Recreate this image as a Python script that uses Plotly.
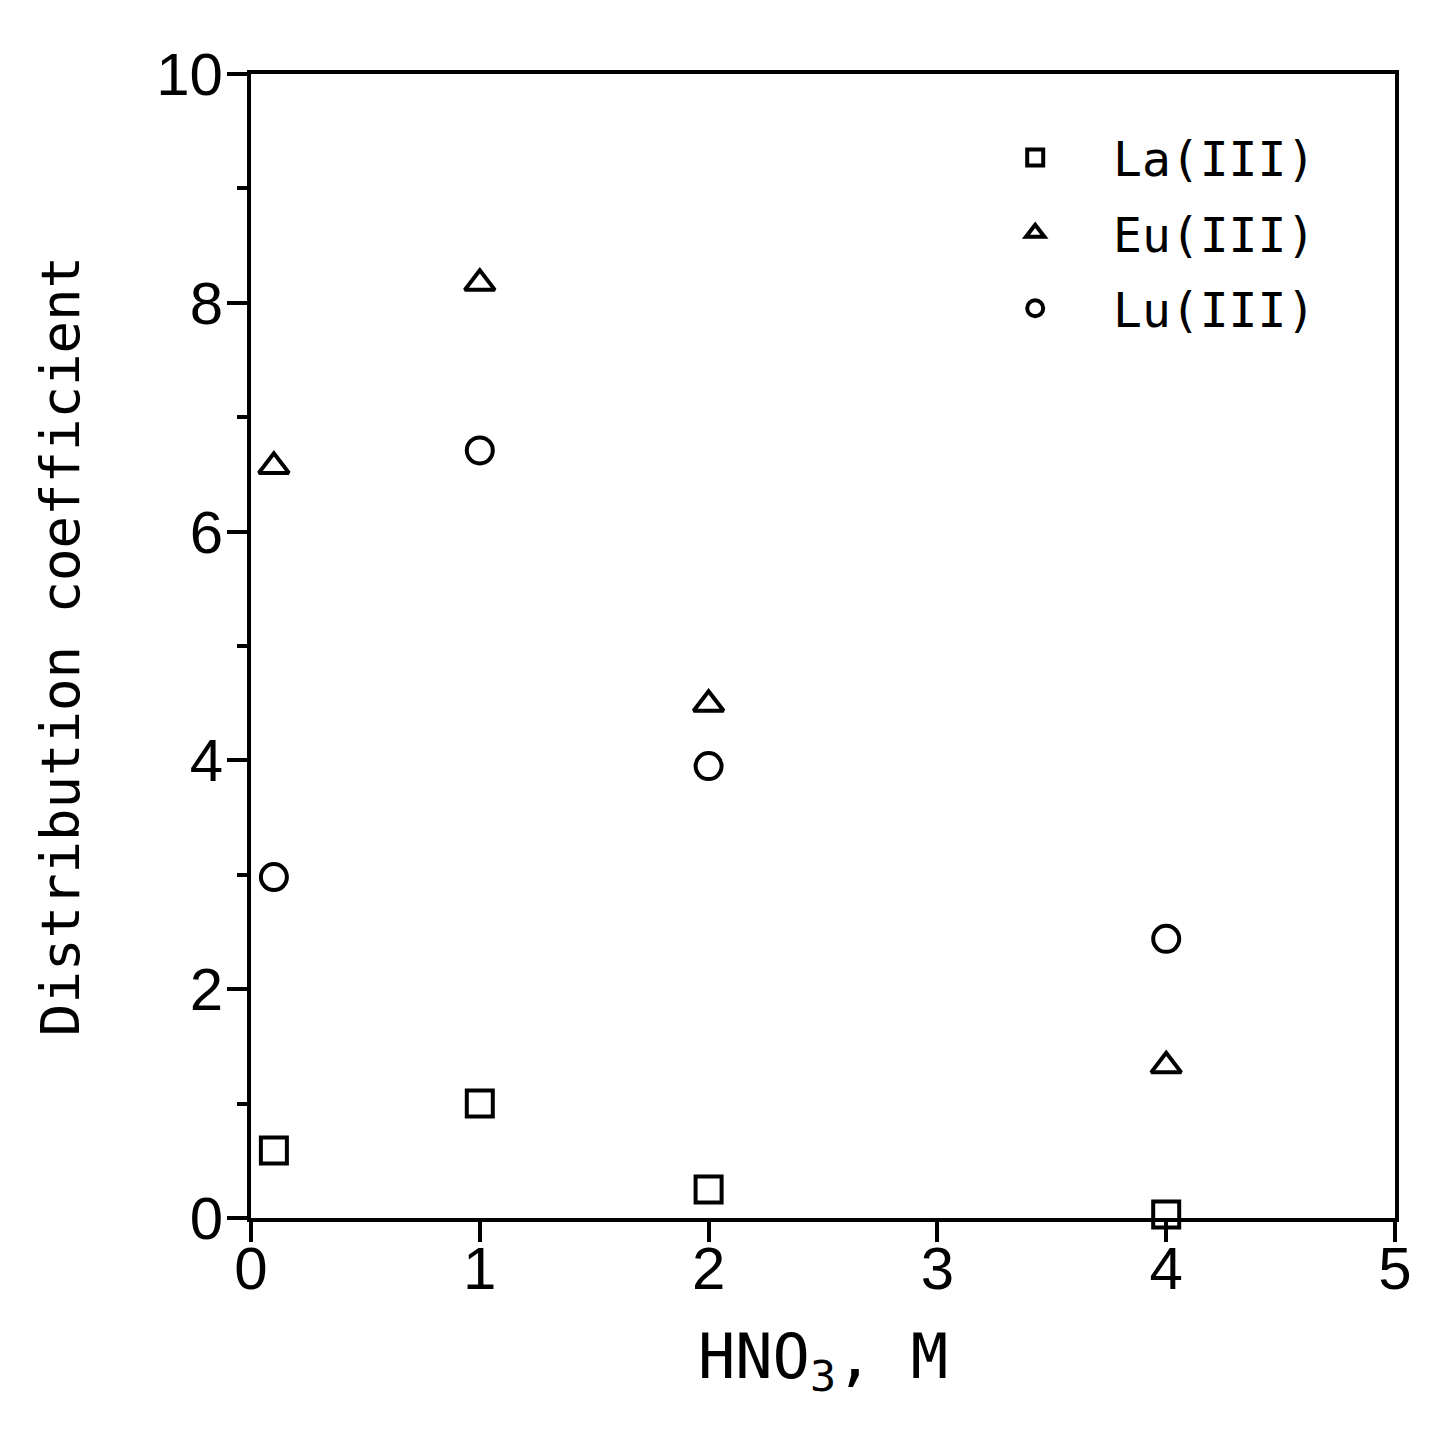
import plotly.graph_objects as go

# HNO3 concentration (M)
hno3 = [0.1, 1, 2, 4]

# distribution coefficients
la_kd = [0.59, 1.0, 0.25, 0.03]
eu_kd = [6.57, 8.17, 4.49, 1.33]
lu_kd = [2.98, 6.71, 3.95, 2.44]

series = [
    ("La(III)", la_kd, "square-open"),
    ("Eu(III)", eu_kd, "triangle-up-open"),
    ("Lu(III)", lu_kd, "circle-open"),
]

mono = "DejaVu Sans Mono"

fig = go.Figure()
for name, vals, sym in series:
    fig.add_trace(go.Scatter(
        x=hno3, y=vals, mode="markers", name="  " + name,
        legendgroup=name,
        marker=dict(symbol=sym, size=26, color="black", line=dict(width=4, color="black")),
        cliponaxis=False,
    ))

axis_common = dict(
    showline=True, linecolor="black", linewidth=4, mirror=True,
    ticks="outside", ticklen=20, tickwidth=4, tickcolor="black",
    showgrid=False, zeroline=False,
    tickfont=dict(family="Liberation Sans", size=60, color="black"),
)

fig.update_xaxes(
    range=[0, 5], dtick=1, tick0=0, ticklabelstandoff=-25,
    title=dict(text="HNO<sub>3</sub>, M", font=dict(family=mono, size=62, color="black"), standoff=35),
    **axis_common,
)
fig.update_yaxes(
    range=[0, 10], dtick=2, tick0=0, ticklabelstandoff=-8,
    minor=dict(dtick=1, ticks="outside", ticklen=10, tickwidth=4, tickcolor="black"),
    title=dict(text="Distribution coefficient", font=dict(family=mono, size=54, color="black"), standoff=60),
    **axis_common,
)

fig.update_layout(
    width=1437, height=1433,
    margin=dict(l=243, r=50, t=66, b=223),
    plot_bgcolor="white", paper_bgcolor="white",
    legend=dict(
        x=0.668, y=0.96, xanchor="left", yanchor="top",
        font=dict(family=mono, size=48, color="black"),
        bgcolor="rgba(0,0,0,0)", traceorder="grouped", tracegroupgap=10,
    ),
)

fig.write_html("out.html")
